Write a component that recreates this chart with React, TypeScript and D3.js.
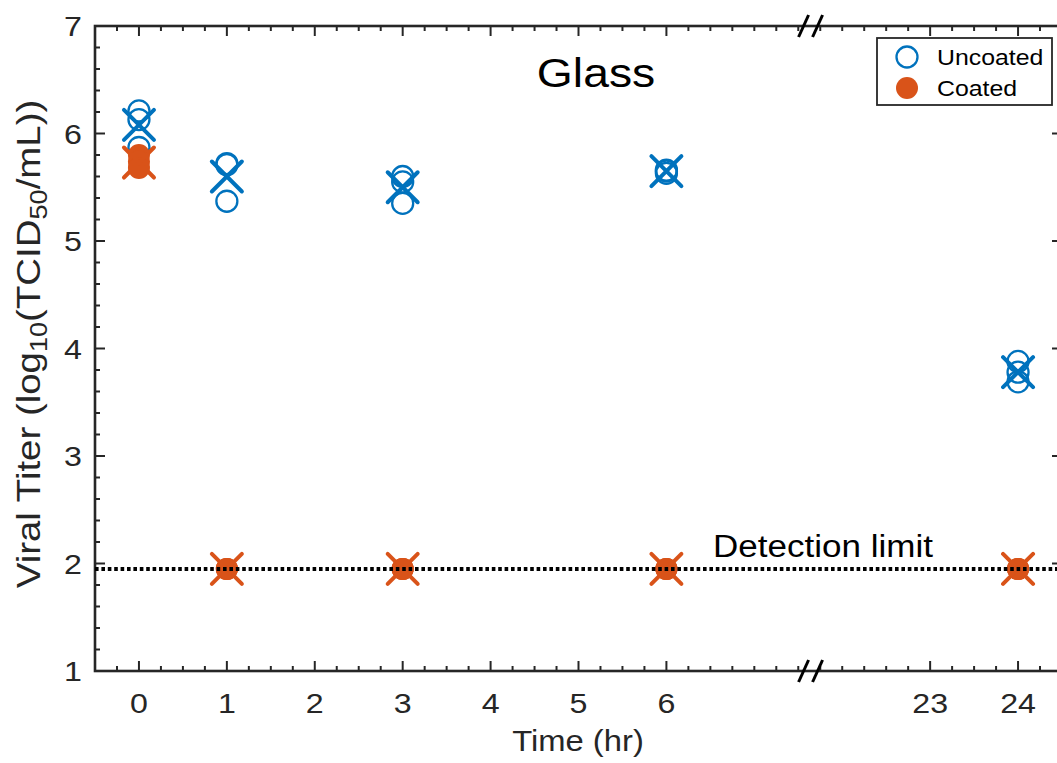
import React from 'react';
import * as d3 from 'd3';

// sampling times (hr) and replicate titers
const hours = [0, 1, 3, 6, 24];
const uncoatedRep1 = [6.21, 5.72, 5.6, 5.66, 3.88];
const uncoatedRep2 = [6.13, 5.71, 5.55, 5.65, 3.78];
const uncoatedRep3 = [5.87, 5.37, 5.35, 5.63, 3.69];
const uncoatedCross = [6.08, 5.6, 5.5, 5.65, 3.78];
const coatedRep1 = [5.8, 1.95, 1.95, 1.95, 1.95];
const coatedRep2 = [5.74, 1.95, 1.95, 1.95, 1.95];
const coatedRep3 = [5.68, 1.95, 1.95, 1.95, 1.95];
const coatedCross = [5.73, 1.95, 1.95, 1.95, 1.95];
const detectionLimit = 1.95;

const xTickHours = [0, 1, 2, 3, 4, 5, 6, 23, 24];
const yTicks = [1, 2, 3, 4, 5, 6, 7];

const BLUE = '#0072BD';
const ORANGE = '#D95319';
const AX = '#262626';
const FONT = '"Liberation Sans", Arial, Helvetica, sans-serif';

const W = 1057;
const H = 763;

// hours -> axis units (broken axis between 6 and 23)
const hourPos = d3.scaleLinear().domain([0, 6, 23, 24]).range([0, 6, 9, 10]);
const x = d3.scaleLinear().domain([-0.5, 10.5]).range([95, 1062]);
const y = d3.scaleLinear().domain([1, 7]).range([671, 26]);
const breakAt = 7.64;

const Txt = ({ tx, ty, rot = 0, size, anchor = 'start', fill = AX, children }: any) => (
  <text
    transform={`translate(${tx},${ty}) rotate(${rot}) scale(1.13,1)`}
    fontSize={size}
    textAnchor={anchor}
    fill={fill}
    fontFamily={FONT}
  >
    {children}
  </text>
);

const cross = (cx: number, cy: number, s = 15) =>
  `M${cx - s},${cy - s}L${cx + s},${cy + s}M${cx - s},${cy + s}L${cx + s},${cy - s}`;

export default function App() {
  const [x0, x1] = x.range();
  const [yb, yt] = y.range();

  const majorPos = xTickHours.map((h) => hourPos(h));
  const minorX = d3
    .range(-0.25, 10.5, 0.25)
    .filter((v) => !majorPos.some((m) => Math.abs(m - v) < 1e-6));
  const minorY = d3.range(1.2, 7, 0.2).filter((v) => Math.abs(v - Math.round(v)) > 1e-6);

  const uncoatedReps = [uncoatedRep1, uncoatedRep2, uncoatedRep3];
  const coatedReps = [coatedRep1, coatedRep2, coatedRep3];

  const bx = x(breakAt);
  const slashes = (ay: number) =>
    [-7, 7].map((o) => (
      <line
        key={`${ay}-${o}`}
        x1={bx + o - 5}
        y1={ay + 11}
        x2={bx + o + 5}
        y2={ay - 11}
        stroke="#000"
        strokeWidth={3}
      />
    ));

  return (
    <svg
      width={W}
      height={H}
      style={{ position: 'absolute', left: 0, top: 0, background: '#fff' }}
    >
      {/* ticks, all four sides, pointing inward */}
      <g stroke={AX} strokeWidth={2}>
        {majorPos.map((p) => (
          <g key={`xm${p}`}>
            <line x1={x(p)} x2={x(p)} y1={yb} y2={yb - 10} />
            <line x1={x(p)} x2={x(p)} y1={yt} y2={yt + 10} />
          </g>
        ))}
        {minorX.map((p) => (
          <g key={`xn${p}`}>
            <line x1={x(p)} x2={x(p)} y1={yb} y2={yb - 5} />
            <line x1={x(p)} x2={x(p)} y1={yt} y2={yt + 5} />
          </g>
        ))}
        {yTicks.map((v) => (
          <g key={`ym${v}`}>
            <line x1={x0} x2={x0 + 10} y1={y(v)} y2={y(v)} />
            <line x1={x1} x2={x1 - 10} y1={y(v)} y2={y(v)} />
          </g>
        ))}
        {minorY.map((v) => (
          <g key={`yn${v}`}>
            <line x1={x0} x2={x0 + 5} y1={y(v)} y2={y(v)} />
            <line x1={x1} x2={x1 - 5} y1={y(v)} y2={y(v)} />
          </g>
        ))}
      </g>
      <rect x={x0} y={yt} width={x1 - x0} height={yb - yt} fill="none" stroke={AX} strokeWidth={2.6} />

      {/* uncoated */}
      {uncoatedReps.map((rep, i) =>
        rep.map((v, j) => (
          <circle
            key={`u${i}-${j}`}
            cx={x(hourPos(hours[j]))}
            cy={y(v)}
            r={10.5}
            fill="none"
            stroke={BLUE}
            strokeWidth={2.3}
          />
        ))
      )}
      {uncoatedCross.map((v, j) => (
        <path
          key={`ux${j}`}
          d={cross(x(hourPos(hours[j])), y(v))}
          stroke={BLUE}
          strokeWidth={4}
          strokeLinecap="round"
          fill="none"
        />
      ))}

      {/* coated */}
      {coatedReps.map((rep, i) =>
        rep.map((v, j) => (
          <circle key={`c${i}-${j}`} cx={x(hourPos(hours[j]))} cy={y(v)} r={11} fill={ORANGE} />
        ))
      )}
      {coatedCross.map((v, j) => (
        <path
          key={`cx${j}`}
          d={cross(x(hourPos(hours[j])), y(v))}
          stroke={ORANGE}
          strokeWidth={4}
          strokeLinecap="round"
          fill="none"
        />
      ))}

      {/* detection limit */}
      <line
        x1={x0}
        x2={x1}
        y1={y(detectionLimit)}
        y2={y(detectionLimit)}
        stroke="#000"
        strokeWidth={4}
        strokeDasharray="3.6 2.8"
      />
      <Txt tx={713} ty={557} size={31} fill="#000">Detection limit</Txt>

      {/* axis break marks */}
      {slashes(yt)}
      {slashes(yb)}

      {/* tick labels */}
      {xTickHours.map((h) => (
        <Txt key={`xl${h}`} tx={x(hourPos(h))} ty={713} size={28.5} anchor="middle">
          {String(h)}
        </Txt>
      ))}
      {yTicks.map((v) => (
        <Txt key={`yl${v}`} tx={82} ty={y(v) + 10} size={28.5} anchor="end">
          {String(v)}
        </Txt>
      ))}

      {/* titles */}
      <Txt tx={596} ty={87} size={41} anchor="middle" fill="#000">Glass</Txt>
      <Txt tx={578} ty={751} size={29} anchor="middle">Time (hr)</Txt>
      <Txt tx={40} ty={344} rot={-90} size={34} anchor="middle">
        Viral Titer (log
        <tspan fontSize={24} dy={7}>10</tspan>
        <tspan dy={-7}>(TCID</tspan>
        <tspan fontSize={24} dy={7}>50</tspan>
        <tspan dy={-7}>/mL))</tspan>
      </Txt>

      {/* legend */}
      <rect x={877} y={38} width={175} height={67} fill="#fff" stroke={AX} strokeWidth={1.8} />
      <circle cx={907} cy={57} r={10.5} fill="none" stroke={BLUE} strokeWidth={2.3} />
      <circle cx={907} cy={88} r={11} fill={ORANGE} />
      <Txt tx={937} ty={65} size={22} fill="#000">Uncoated</Txt>
      <Txt tx={937} ty={96} size={22} fill="#000">Coated</Txt>
    </svg>
  );
}
